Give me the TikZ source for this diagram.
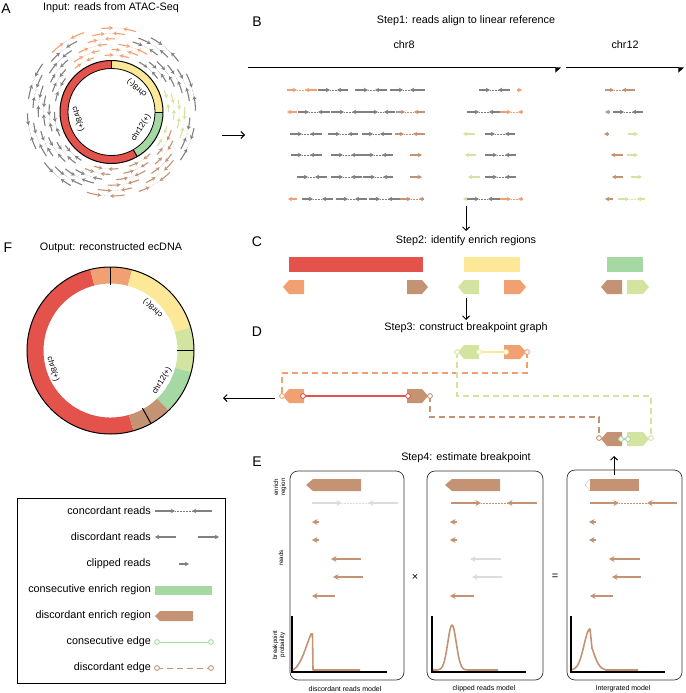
\documentclass[tikz,border=0pt]{standalone}
\usepackage{fontspec}
\setmainfont{Liberation Sans}
\usetikzlibrary{arrows.meta}
\definecolor{cRed}{HTML}{E3534B}
\definecolor{cYel}{HTML}{FDE898}
\definecolor{cGrn}{HTML}{A5D8A3}
\definecolor{cLgr}{HTML}{D3E4A0}
\definecolor{cOrg}{HTML}{F1A072}
\definecolor{cBrn}{HTML}{C39374}
\definecolor{cGry}{HTML}{808080}
\definecolor{cLgy}{HTML}{DCDCDC}
% read pair: x1 x2 (tip) ... x3 (tip) x4, y, colour
\newcommand\rpair[6]{\draw[rd,#6] (#1,#5)--(#2,#5); \draw[dt,#6] (#2,#5)--(#3,#5); \draw[rd,#6] (#4,#5)--(#3,#5);}
\newcommand\rsing[4]{\draw[rd,#4] (#1,#3)--(#2,#3);}
\newcommand\epair[6]{\draw[erd,#6] (#1,#5)--(#2,#5); \draw[dt,#6] (#2,#5)--(#3,#5); \draw[erd,#6] (#4,#5)--(#3,#5);}
\newcommand\esing[4]{\draw[erd,#4] (#1,#3)--(#2,#3);}
% pentagons: xa xb y h depth colour
\newcommand\pentL[6]{\fill[#6] (#1,#3) -- ({#1+#5},{#3-#4/2}) -- (#2,{#3-#4/2}) -- (#2,{#3+#4/2}) -- ({#1+#5},{#3+#4/2}) -- cycle;}
\newcommand\pentR[6]{\fill[#6] (#1,{#3-#4/2}) -- ({#2-#5},{#3-#4/2}) -- (#2,#3) -- ({#2-#5},{#3+#4/2}) -- (#1,{#3+#4/2}) -- cycle;}
% annulus segment: start end rin rout colour
\newcommand\aseg[5]{\fill[#5] (#1:#4) arc[start angle=#1, end angle=#2, radius=#4] -- (#2:#3) arc[start angle=#2, end angle=#1, radius=#3] -- cycle;}
\newcommand\ecirc[3]{\draw[ec,draw=#3] (#1,#2) circle[radius=2.4pt];}
\begin{document}
\begin{tikzpicture}[x=1pt,y=-1pt,
  rd/.style={line width=1.2pt,-{Stealth[length=4.2pt,width=4.6pt]}},
  erd/.style={line width=1.4pt,-{Stealth[length=5.5pt,width=6pt]}},
  dt/.style={densely dotted, line width=0.5pt},
  ard/.style={line width=1.1pt,-{Stealth[length=3.8pt,width=4.2pt]}},
  adt/.style={densely dotted, line width=0.4pt},
  ttl/.style={font=\fontsize{10.8}{13}\selectfont},
  lgt/.style={font=\fontsize{10.8}{13}\selectfont, inner sep=0pt, anchor=east},
  plbl/.style={font=\fontsize{14}{16}\selectfont},
  chrl/.style={font=\fontsize{8}{9}\selectfont, inner sep=0pt},
  sl/.style={font=\fontsize{6.2}{7}\selectfont, inner sep=0pt, align=center, rotate=90},
  ml/.style={font=\fontsize{7}{8}\selectfont, inner sep=0pt},
  bigarr/.style={line width=1pt, -{Straight Barb[length=3.5pt,width=7pt]}},
  dsh/.style={line width=1.3pt, dash pattern=on 6pt off 4pt},
  edg/.style={line width=1.2pt},
  ec/.style={line width=0.9pt, fill=white},
  boxst/.style={line width=0.7pt, draw=black!80, rounded corners=8pt},
  crv/.style={cBrn, line width=1.6pt, line join=round},
  axs/.style={line width=1.2pt}]
\useasboundingbox (0,0) rectangle (685,693);

% ---------- panel labels & titles ----------
\node[plbl] (lA) at (6,9) {A};
\node[plbl] (lB) at (257,22) {B};
\node[plbl] (lC) at (257,242) {C};
\node[plbl] (lD) at (257,332) {D};
\node[plbl] (lE) at (257,462) {E};
\node[plbl] (lF) at (8,248) {F};
\node[ttl] (tA) at (111,8) {Input: reads from ATAC-Seq};
\node[ttl] (tB) at (466,21) {Step1: reads align to linear reference};
\node[ttl] (tC) at (466,241) {Step2: identify enrich regions};
\node[ttl] (tD) at (466,328) {Step3: construct breakpoint graph};
\node[ttl] (tE) at (466,458) {Step4: estimate breakpoint};
\node[ttl] (tF) at (111,248) {Output: reconstructed ecDNA};

% ---------- panel A ----------
\begin{scope}[shift={(111.5,112)}, y=1pt]
  \foreach \i in {0,...,5}{
    \foreach \j in {0,...,9}{
      \pgfmathsetmacro\rA{57+5.4*\i}
      \pgfmathsetmacro\angA{mod(29*\i+36*\j,360)}
      \pgfmathsetmacro\angB{\angA+8+mod(\i+\j,3)}
      \pgfmathsetmacro\angC{\angB+6+mod(\i*\j,3)}
      \pgfmathsetmacro\angD{\angC+8+mod(\i+2*\j,3)}
      \pgfmathtruncatemacro\mA{mod(\angA+12.5,360)}
      \def\colA{cGry}
      \ifnum\mA>69 \ifnum\mA<126 \def\colA{cOrg}\fi\fi
      \ifnum\mA>254 \ifnum\mA<331 \def\colA{cBrn}\fi\fi
      \ifnum\i<4 \ifnum\mA>329 \def\colA{cLgr}\fi\ifnum\mA<26 \def\colA{cLgr}\fi\fi
      \draw[ard,\colA] (\angA:\rA) arc[start angle=\angA,end angle=\angB,radius=\rA];
      \draw[adt,\colA] (\angB:\rA) arc[start angle=\angB,end angle=\angC,radius=\rA];
      \draw[ard,\colA] (\angD:\rA) arc[start angle=\angD,end angle=\angC,radius=\rA];
    }
  }
  \aseg{90}{300}{43.5}{51.5}{cRed}
  \aseg{0}{90}{43.5}{51.5}{cYel}
  \aseg{-60}{0}{43.5}{51.5}{cGrn}
  \draw[line width=1pt] (0,0) circle[radius=51.5];
  \draw[line width=0.8pt] (0,0) circle[radius=43.5];
  \draw[line width=1pt] (90:43.5) -- (90:51.5);
  \draw[line width=1pt] (0:43.5) -- (0:51.5);
  \draw[line width=1pt] (-60:43.5) -- (-60:51.5);
\end{scope}
\node[chrl, rotate=-73] (A8p) at (78,119) {chr8(+)};
\node[chrl, rotate=140] (A8m) at (137,88) {chr8(-)};
\node[chrl, rotate=58] (A12) at (141,128) {chr12(+)};

\coordinate (aA1) at (222,135); \coordinate (aA2) at (245,135);
\draw[bigarr] (aA1) -- (aA2);

% ---------- panel B ----------
\node[ttl] (c8) at (404,45) {chr8};
\node[ttl] (c12) at (625,45) {chr12};
\coordinate (l8a) at (248,68); \coordinate (l8b) at (561,68);
\coordinate (l12a) at (566,68); \coordinate (l12b) at (684,68);
\draw[line width=1pt, -{Triangle[harpoon,swap,length=5pt,width=9pt]}] (l8a) -- (l8b);
\draw[line width=1pt, -{Triangle[harpoon,swap,length=5pt,width=9pt]}] (l12a) -- (l12b);
% row 1
\rpair{287}{297}{305}{317}{90}{cOrg}
\rpair{318}{330}{337}{348}{90}{cGry}
\rpair{355}{368}{375}{387}{90}{cGry}
\rpair{390}{403}{410}{425}{90}{cGry}
\rpair{479}{490}{498}{510}{90}{cGry}
\rsing{517}{522}{90}{cOrg}
\rpair{605}{614}{622}{635}{90}{cBrn}
% row 2
\rsing{297}{287}{112}{cOrg}
\rpair{298}{309}{318}{330}{112}{cGry}
\rpair{331}{344}{352}{366}{112}{cGry}
\rpair{366}{378}{384}{395}{112}{cGry}
\rpair{396}{405}{414}{425}{112}{cBrn}
\rpair{467}{479}{489}{500}{112}{cGry}
\rpair{500}{511}{518}{523}{112}{cOrg}
\rsing{610}{605}{112}{cBrn}
\rpair{613}{624}{632}{643}{112}{cGry}
% row 3
\rpair{290}{302}{310}{322}{134}{cGry}
\rpair{328}{340}{348}{358}{134}{cGry}
\rpair{362}{373}{380}{392}{134}{cGry}
\rpair{395}{404}{413}{425}{134}{cBrn}
\rsing{475}{463}{134}{cLgr}
\rpair{485}{495}{505}{515}{134}{cGry}
\rsing{609}{604}{134}{cBrn}
\rsing{628}{638}{134}{cLgr}
% row 4
\rpair{291}{302}{310}{322}{155}{cGry}
\rpair{331}{343}{351}{362}{155}{cGry}
\rpair{362}{374}{382}{393}{155}{cGry}
\rsing{410}{422}{155}{cBrn}
\rsing{476}{465}{155}{cLgr}
\rpair{485}{497}{505}{516}{155}{cGry}
\rsing{623}{611}{155}{cBrn}
\rsing{627}{638}{155}{cLgr}
% row 5
\rpair{297}{308}{315}{327}{177}{cGry}
\rpair{331}{343}{351}{362}{177}{cGry}
\rpair{363}{375}{383}{393}{177}{cGry}
\rsing{410}{422}{177}{cBrn}
\rsing{480}{468}{177}{cLgr}
\rpair{485}{497}{505}{516}{177}{cGry}
\rsing{623}{612}{177}{cBrn}
\rsing{631}{642}{177}{cLgr}
% row 6
\rsing{297}{288}{199}{cOrg}
\rpair{302}{313}{322}{333}{199}{cGry}
\rpair{336}{348}{355}{367}{199}{cGry}
\rpair{369}{380}{388}{400}{199}{cGry}
\rpair{400}{411}{419}{424}{199}{cBrn}
\rsing{468}{463}{199}{cLgr}
\rpair{467}{479}{488}{500}{199}{cGry}
\rpair{500}{511}{518}{523}{199}{cOrg}
\rsing{613}{605}{199}{cBrn}
\rpair{618}{629}{637}{645}{199}{cLgr}

\coordinate (aB1) at (466,206); \coordinate (aB2) at (466,231);
\draw[bigarr] (aB1) -- (aB2);

% ---------- panel C ----------
\fill[cRed] (289,257) rectangle (423,272);
\fill[cYel] (464,257) rectangle (520,272);
\fill[cGrn] (607,257) rectangle (643,272);
\pentL{283}{304}{287}{14}{6}{cOrg}
\pentR{407}{428}{287}{14}{6}{cBrn}
\pentL{458}{479}{287}{14}{6}{cLgr}
\pentR{504}{526}{287}{14}{6}{cOrg}
\pentL{601}{622}{287}{14}{6}{cBrn}
\pentR{627}{649}{287}{14}{6}{cLgr}

\coordinate (aC1) at (466,298); \coordinate (aC2) at (466,320);
\draw[bigarr] (aC1) -- (aC2);

% ---------- panel D ----------
\coordinate (oS) at (527,352); \coordinate (oE) at (282,396);
\coordinate (bS) at (430,396); \coordinate (bE) at (599,438);
\coordinate (gS) at (457,352); \coordinate (gE) at (651,438);
\draw[dsh,cOrg] (oS) -- ++(0,21) -| (oE);
\draw[dsh,cBrn] (bS) -- ++(0,21) -| (bE);
\draw[dsh,cLgr] (gS) -- ++(0,44) -| (gE);
\pentL{458}{479}{352}{14}{6}{cLgr}
\pentR{504}{526}{352}{14}{6}{cOrg}
\pentL{283}{304}{396}{14}{6}{cOrg}
\pentR{407}{428}{396}{14}{6}{cBrn}
\pentL{601}{622}{439}{14}{6}{cBrn}
\pentR{627}{649}{439}{14}{6}{cLgr}
\coordinate (yS) at (479,352); \coordinate (yE) at (506,352);
\coordinate (rS) at (303,396); \coordinate (rE) at (408,396);
\coordinate (cS) at (622,439); \coordinate (cE) at (627,439);
\draw[edg,cYel] (yS) -- (yE);
\draw[edg,cRed] (rS) -- (rE);
\draw[edg,cGrn] (cS) -- (cE);
\ecirc{479}{352}{cYel} \ecirc{506}{352}{cYel}
\ecirc{303}{396}{cRed} \ecirc{408}{396}{cRed}
\ecirc{621}{439}{cGrn} \ecirc{628}{439}{cGrn}
\ecirc{527}{352}{cOrg} \ecirc{282}{396}{cOrg}
\ecirc{430}{396}{cBrn} \ecirc{599}{438}{cBrn}
\ecirc{457}{352}{cLgr} \ecirc{651}{438}{cLgr}

\coordinate (aD1) at (275,398); \coordinate (aD2) at (223,398);
\draw[bigarr] (aD1) -- (aD2);
\coordinate (aE1) at (614,475); \coordinate (aE2) at (614,456);
\draw[bigarr] (aE1) -- (aE2);

% ---------- panel F ----------
\begin{scope}[shift={(110.5,350.5)}, y=1pt]
  \aseg{104}{286}{67}{83.5}{cRed}
  \aseg{75}{104}{67}{83.5}{cOrg}
  \aseg{16}{75}{67}{83.5}{cYel}
  \aseg{-15}{16}{67}{83.5}{cLgr}
  \aseg{-46}{-15}{67}{83.5}{cGrn}
  \aseg{-74}{-46}{67}{83.5}{cBrn}
  \draw[line width=1pt] (0,0) circle[radius=83.5];
  \draw[line width=1pt] (90:66) -- (90:83.5);
  \draw[line width=1pt] (0:66) -- (0:83.5);
  \draw[line width=1pt] (-61:66) -- (-61:83.5);
\end{scope}
\node[chrl, rotate=138] (F8m) at (153,308) {chr8(-)};
\node[chrl, rotate=59] (F12) at (162,381) {chr12(+)};
\node[chrl, rotate=-73] (F8p) at (53,369) {chr8(+)};

% ---------- legend ----------
\draw[line width=0.8pt] (17,498) rectangle (225,683);
\node[lgt] (g1) at (151,511) {concordant reads};
\node[lgt] (g2) at (151,537) {discordant reads};
\node[lgt] (g3) at (151,564) {clipped reads};
\node[lgt] (g4) at (151,590) {consecutive enrich region};
\node[lgt] (g5) at (151,616) {discordant enrich region};
\node[lgt] (g6) at (151,642) {consecutive edge};
\node[lgt] (g7) at (151,668) {discordant edge};
\rpair{155}{175}{192}{212}{511}{cGry}
\rsing{176}{155}{537}{cGry}
\rsing{198}{219}{537}{cGry}
\rsing{179}{189}{564}{cGry}
\fill[cGrn] (155,586) rectangle (212,595);
\pentL{155}{193}{616}{10}{5}{cBrn}
\coordinate (kS) at (157,642); \coordinate (kE) at (211,642);
\draw[line width=1pt,cGrn] (kS) -- (kE);
\ecirc{157}{642}{cGrn} \ecirc{211}{642}{cGrn}
\coordinate (dS) at (157,668); \coordinate (dE) at (211,668);
\draw[line width=1pt,cBrn,dash pattern=on 6pt off 4pt] (dS) -- (dE);
\ecirc{157}{668}{cBrn} \ecirc{211}{668}{cBrn}

% ---------- panel E ----------
\draw[boxst] (290,471) rectangle (404,680);
\draw[boxst] (427,471) rectangle (543,680);
\draw[boxst] (567,470) rectangle (682,680);
\node[sl] (sE1) at (280,487) {enrich\\region};
\node[sl] (sE2) at (281,558) {reads};
\node[sl] (sE3) at (279,645) {breakpoint\\probaility};
\node[font=\fontsize{11}{12}\selectfont] (times) at (415,577) {×};
\node[font=\fontsize{11}{12}\selectfont] (eq) at (555,577) {=};
\node[ml] (m1) at (345,689) {discordant reads model};
\node[ml] (m2) at (484,689) {clipped reads model};
\node[ml] (m3) at (623,689) {Intergrated model};
% box 1
\pentL{306}{361}{485}{12}{7}{cBrn}
\epair{312}{342}{368}{398}{503}{cLgy}
\esing{319}{312}{522}{cBrn}
\esing{319}{312}{540}{cBrn}
\esing{361}{331}{559}{cBrn}
\esing{363}{333}{577}{cBrn}
\esing{335}{312}{596}{cBrn}
\draw[axs] (292,616) -- (292,672) -- (387,672);
\draw[crv] (293,670) .. controls (301,666) and (306,646) .. (311,634) -- (312.5,634) -- (313,670) -- (360,670);
% box 2
\pentL{445}{500}{485}{12}{7}{cBrn}
\epair{451}{481}{507}{537}{503}{cBrn}
\esing{457}{450}{522}{cBrn}
\esing{457}{450}{540}{cBrn}
\esing{501}{470}{559}{cLgy}
\esing{502}{472}{577}{cLgy}
\esing{474}{450}{596}{cBrn}
\draw[axs] (432,616) -- (432,672) -- (526,672);
\draw[crv] plot[domain=433:498, samples=90] (\x, {670-45*exp(-((\x-452)^2)/36)});
% box 3
\fill[cBrn] (590,479) rectangle (639,491);
\draw[cBrn, densely dotted, line width=0.6pt] (590,479) -- (585,485) -- (590,491);
\epair{590}{619}{647}{677}{503}{cBrn}
\esing{596}{589}{522}{cBrn}
\esing{596}{589}{540}{cBrn}
\esing{640}{609}{559}{cBrn}
\esing{641}{612}{577}{cBrn}
\esing{613}{590}{596}{cBrn}
\draw[axs] (571,616) -- (571,672) -- (665,672);
\draw[crv] plot[domain=572:590, samples=40] (\x, {670-41*exp(-((\x-590)^2)/72)}) -- (592,648) .. controls (596,660) and (599,669) .. (606,670) -- (638,670);
\end{tikzpicture}
\end{document}
